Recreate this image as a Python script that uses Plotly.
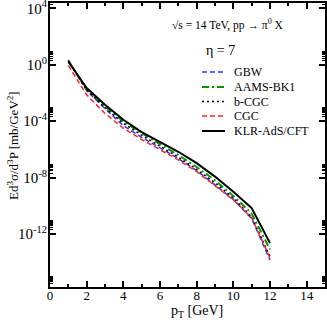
import plotly.graph_objects as go

# p_T grid [GeV]
pt = [1, 2, 3, 4, 5, 6, 7, 8, 9, 10, 11, 12]

# log10 of E d^3sigma/d^3P [mb/GeV^2]
gbw = [0.35, -1.84, -3.1, -4.32, -5.15, -5.88, -6.65, -7.5, -8.5, -9.55, -10.9, -13.85]
aams = [0.25, -1.75, -2.95, -4.02, -4.85, -5.6, -6.4, -7.25, -8.2, -9.3, -10.55, -13.1]
bcgc = [0.3, -1.8, -3.05, -4.15, -5.0, -5.75, -6.55, -7.42, -8.38, -9.45, -10.8, -13.6]
cgc = [-0.05, -2.13, -3.45, -4.5, -5.3, -6.02, -6.75, -7.58, -8.55, -9.58, -10.85, -13.7]
klr = [0.23, -1.65, -2.84, -3.9, -4.77, -5.48, -6.17, -6.98, -7.93, -9.0, -10.16, -12.65]

series = [
    ("GBW", gbw, "#3333ee", "5px,3px", 1.5),
    ("AAMS-BK1", aams, "#009900", "7px,3px,2px,3px", 2),
    ("b-CGC", bcgc, "black", "2px,3px", 1.5),
    ("CGC", cgc, "#ff2222", "5px,3px", 1.5),
    ("KLR-AdS/CFT", klr, "black", "solid", 2),
]

ytick_exp = [4, 0, -4, -8, -12]
serif = "Liberation Serif"

# plot box in pixels: left 50, right 325, top 3, bottom 287
W, H = 327, 327
L, R, T, B = 50, 2, 3, 40
pw, ph = W - L - R, H - T - B


def px(x):
    return (x - L) / pw


def py(y):
    return 1 - (y - T) / ph


fig = go.Figure()
for name, vals, col, dash, w in series:
    fig.add_trace(go.Scatter(x=pt, y=[10 ** v for v in vals], mode="lines", name=name,
                             line=dict(color=col, dash=dash, width=w), showlegend=False))

# hand-made legend to match the original spacing
shapes = []
annotations = []
rows = [72, 87, 101.5, 116, 131]
for (name, vals, col, dash, w), r in zip(series, rows):
    shapes.append(dict(type="line", xref="paper", yref="paper", x0=px(202), x1=px(225),
                       y0=py(r), y1=py(r), line=dict(color=col, dash=dash, width=w)))
    annotations.append(dict(x=px(232), y=py(r), xref="paper", yref="paper", xanchor="left",
                            yanchor="middle", text=name, showarrow=False,
                            font=dict(family=serif, size=12)))

annotations += [
    dict(x=px(228), y=py(24), xref="paper", yref="paper", xanchor="center", yanchor="middle",
         text="√s = 14 TeV, pp → π<sup>0</sup> X", showarrow=False,
         font=dict(family=serif, size=11.5)),
    dict(x=px(204), y=py(50), xref="paper", yref="paper", xanchor="left", yanchor="middle",
         text="η = 7", showarrow=False, font=dict(family=serif, size=14)),
    dict(x=px(197), y=py(311), xref="paper", yref="paper", xanchor="center", yanchor="middle",
         text="p<sub>T</sub> [GeV]", showarrow=False, font=dict(family=serif, size=14)),
    dict(x=px(13), y=py(146), xref="paper", yref="paper", xanchor="center", yanchor="middle",
         text="Ed<sup>3</sup>σ/d<sup>3</sup>P [mb/GeV<sup>2</sup>]", textangle=-90,
         showarrow=False, font=dict(family=serif, size=13)),
]

minor_y = [k * 10 ** e for e in [4, 0, -4, -8, -12, -16] for k in range(2, 10)]

fig.update_layout(
    template="none",
    width=W, height=H,
    margin=dict(l=L, r=R, t=T, b=B),
    plot_bgcolor="white", paper_bgcolor="white",
    font=dict(family=serif, color="black", size=13),
    showlegend=False,
    shapes=shapes,
    annotations=annotations,
)
fig.update_xaxes(range=[0, 15], tickvals=[0, 2, 4, 6, 8, 10, 12, 14], automargin=False,
                 showline=True, linewidth=2, linecolor="black", mirror="ticks",
                 ticks="inside", ticklen=6, tickwidth=1.5, tickcolor="black",
                 minor=dict(tickvals=list(range(1, 15, 2)), ticks="inside", ticklen=3,
                            tickwidth=1.5, tickcolor="black"),
                 tickfont=dict(family=serif, size=13), ticklabelstandoff=-5,
                 showgrid=False, zeroline=False)
fig.update_yaxes(type="log", range=[-15.76, 4.38], automargin=False,
                 tickvals=[10 ** e for e in ytick_exp],
                 ticktext=["10<sup>%d</sup>" % e for e in ytick_exp],
                 showline=True, linewidth=2, linecolor="black", mirror="ticks",
                 ticks="inside", ticklen=6, tickwidth=1.5, tickcolor="black",
                 minor=dict(tickvals=minor_y, ticks="inside", ticklen=3, tickwidth=1,
                            tickcolor="black"),
                 tickfont=dict(family=serif, size=15), ticklabelstandoff=-2,
                 ticklabeloverflow="allow",
                 showgrid=False, zeroline=False)

# the page body has an 8px default margin; drop it so the figure sits at the corner
fig.write_html("out.html", config={"displayModeBar": False},
               post_script="document.body.style.margin='0';")
